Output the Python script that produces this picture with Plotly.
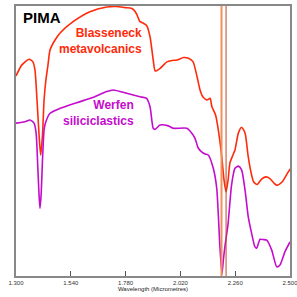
import plotly.graph_objects as go

# Wavelength (micrometres) and relative reflectance (offset spectra, arbitrary units)
blass_wl = [1.300, 1.325, 1.357, 1.374, 1.383, 1.392, 1.401, 1.408, 1.416, 1.423, 1.431, 1.440,
            1.449, 1.471, 1.493, 1.550, 1.624, 1.697, 1.741, 1.777, 1.807, 1.821, 1.830, 1.843,
            1.858, 1.872, 1.887, 1.901, 1.910, 1.931, 1.961, 1.983, 2.005, 2.034, 2.053, 2.075,
            2.093, 2.106, 2.119, 2.137, 2.150, 2.158, 2.174, 2.188, 2.201, 2.211, 2.220, 2.229,
            2.237, 2.250, 2.259, 2.274, 2.288, 2.303, 2.317, 2.329, 2.341, 2.356, 2.377, 2.395,
            2.412, 2.430, 2.443, 2.465, 2.487, 2.501]
blass_refl = [74.1, 78.1, 80.3, 79.3, 76.3, 65.2, 52.2, 44.8, 52.2, 65.2, 72.6, 78.1,
              83.7, 87.4, 90.0, 94.2, 97.9, 99.6, 99.8, 99.4, 99.1, 98.1, 96.7, 94.2,
              93.6, 92.8, 88.6, 80.0, 75.9, 76.9, 79.3, 79.8, 80.0, 80.9, 80.7, 79.4,
              73.8, 68.9, 66.3, 65.2, 65.8, 62.7, 59.6, 53.0, 44.2, 35.6, 31.1, 35.6,
              41.9, 44.8, 46.7, 53.0, 55.1, 53.0, 44.2, 38.5, 34.8, 33.9, 36.0, 36.7,
              36.1, 34.4, 33.6, 34.8, 37.8, 39.7]

werfen_wl = [1.300, 1.339, 1.361, 1.379, 1.388, 1.396, 1.401, 1.405, 1.410, 1.416, 1.423, 1.429,
             1.449, 1.493, 1.566, 1.639, 1.697, 1.726, 1.785, 1.843, 1.872, 1.887, 1.901, 1.909,
             1.931, 1.967, 1.989, 2.048, 2.070, 2.084, 2.098, 2.113, 2.128, 2.142, 2.164, 2.179,
             2.193, 2.202, 2.208, 2.215, 2.229, 2.244, 2.259, 2.274, 2.288, 2.303, 2.317, 2.332,
             2.346, 2.354, 2.369, 2.382, 2.398, 2.420, 2.442, 2.456, 2.478, 2.500]
werfen_refl = [56.6, 57.1, 57.8, 56.6, 53.0, 39.3, 30.0, 25.0, 30.0, 43.0, 54.1, 56.7,
               60.3, 62.1, 64.2, 66.2, 68.3, 68.9, 67.7, 66.4, 65.8, 62.7, 54.7, 54.3,
               55.9, 55.6, 54.7, 54.7, 52.9, 51.0, 47.4, 46.0, 45.2, 44.8, 39.9, 32.6,
               10.9, 0.7, 5.9, 10.9, 19.5, 33.7, 39.9, 40.7, 39.3, 31.9, 22.0, 15.8,
               10.9, 10.3, 13.6, 13.5, 13.3, 9.6, 3.4, 4.1, 9.0, 12.6]

marker_wl = [2.200, 2.220]
marker_colors = ["#f0905a", "#c0482a"]
marker_widths = [2, 1]

tick_vals = [1.300, 1.540, 1.780, 2.020, 2.260, 2.4999]
tick_text = ["1.300", "1.540", "1.780", "2.020", "2.260", "2.500"]

RED = "#ff2a0a"
MAG = "#c40ccc"

fig = go.Figure()
fig.add_trace(go.Scatter(x=blass_wl, y=blass_refl, mode="lines",
                         line=dict(color=RED, width=1.6, shape="spline", smoothing=0.6),
                         showlegend=False, hoverinfo="skip"))
fig.add_trace(go.Scatter(x=werfen_wl, y=werfen_refl, mode="lines",
                         line=dict(color=MAG, width=1.6, shape="spline", smoothing=0.6),
                         showlegend=False, hoverinfo="skip"))

for wl, c, w in zip(marker_wl, marker_colors, marker_widths):
    fig.add_shape(type="line", xref="x", yref="paper", x0=wl, x1=wl, y0=0, y1=1,
                  line=dict(color=c, width=w))

fig.add_annotation(text="<b>PIMA</b>", xref="paper", yref="paper", x=0.018, y=0.956,
                   xanchor="left", yanchor="middle", showarrow=False,
                   font=dict(family="Liberation Sans, Arial", size=15, color="black"))
fig.add_annotation(text="<b>Blasseneck<br>metavolcanics</b>", xref="paper", yref="paper",
                   x=0.468, y=0.870, xanchor="right", yanchor="middle", align="right",
                   showarrow=False,
                   font=dict(family="Liberation Sans, Arial", size=12, color=RED))
fig.add_annotation(text="<b>Werfen<br>siliciclastics</b>", xref="paper", yref="paper",
                   x=0.438, y=0.602, xanchor="right", yanchor="middle", align="right",
                   showarrow=False,
                   font=dict(family="Liberation Sans, Arial", size=12, color=MAG))

fig.update_layout(
    width=297, height=297,
    margin=dict(l=16, r=7, t=6, b=21, autoexpand=False),
    paper_bgcolor="white", plot_bgcolor="white",
    font=dict(family="Liberation Sans, Arial", size=6, color="#333"),
    xaxis=dict(range=[1.3, 2.5], tickvals=tick_vals, ticktext=tick_text,
               ticks="inside", ticklen=5, tickcolor="#555", tickwidth=1,
               ticklabeloverflow="allow", automargin=False,
               showgrid=False, zeroline=False,
               showline=True, linecolor="#888", linewidth=2, mirror=True,
               tickfont=dict(size=6, color="#333"),
               title=dict(text="Wavelength (Micrometres)", font=dict(size=6, color="#222"),
                          standoff=2)),
    yaxis=dict(range=[0, 100], showticklabels=False, ticks="", automargin=False,
               showgrid=False, zeroline=False,
               showline=True, linecolor="#888", linewidth=2, mirror=True),
)

fig.write_html("out.html", config={"displayModeBar": False},
               post_script="document.body.style.margin='0';document.body.style.padding='0';")
